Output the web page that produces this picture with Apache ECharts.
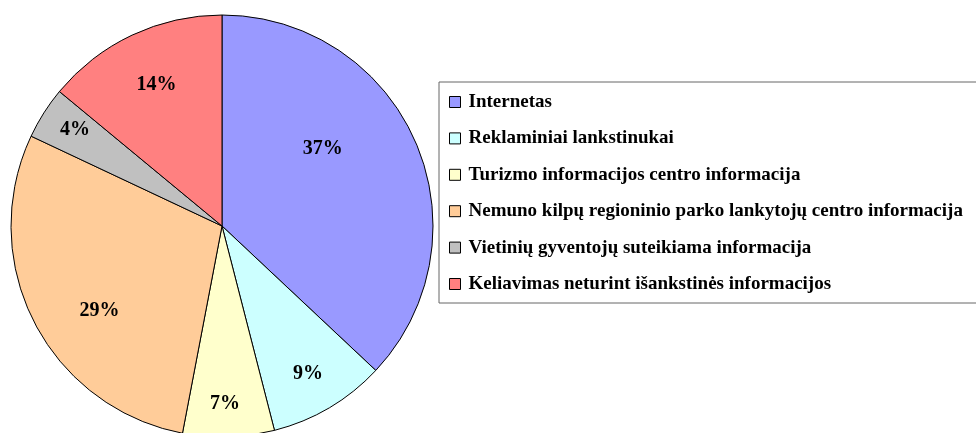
<!DOCTYPE html>
<html>
<head>
<meta charset="utf-8">
<script src="https://cdn.jsdelivr.net/npm/echarts@6/dist/echarts.min.js"></script>
<style>
  html, body { margin: 0; padding: 0; background: #fff; }
  #chart { width: 976px; height: 433px; }
</style>
</head>
<body>
<div id="chart"></div>
<script>
// categories + shares (percent)
var categories = [
  'Internetas',
  'Reklaminiai lankstinukai',
  'Turizmo informacijos centro informacija',
  'Nemuno kilpų regioninio parko lankytojų centro informacija',
  'Vietinių gyventojų suteikiama informacija',
  'Keliavimas neturint išankstinės informacijos'
];
var shares = [37, 9, 7, 29, 4, 14];
var colors = ['#9999FF', '#CCFFFF', '#FFFFCC', '#FFCC99', '#C0C0C0', '#FF8080'];

var FONT = '"Liberation Serif", "Times New Roman", serif';

// excel puts its labels a bit off the slice middle, nudge them
var labelNudge = [[-47, -13], [4, 9], [-2, 17], [21, 12], [-11, -10], [3, 5]];

var pieData = [];
for (var i = 0; i < categories.length; i++) {
  pieData.push({ name: categories[i], value: shares[i], itemStyle: { color: colors[i] } });
}
// copy used only to carry the labels
var labelData = [];
for (var j = 0; j < categories.length; j++) {
  labelData.push({ name: categories[j], value: shares[j], label: { offset: labelNudge[j] } });
}

var chart = echarts.init(document.getElementById('chart'));
chart.setOption({
  animation: false,
  backgroundColor: '#fff',
  legend: {
    orient: 'vertical',
    left: 439,
    top: 82,
    padding: [10, 40, 9, 10],
    itemGap: 16.4,
    itemWidth: 11,
    itemHeight: 11,
    icon: 'rect',
    borderColor: '#666',
    borderWidth: 1,
    data: categories,
    itemStyle: { borderColor: '#000', borderWidth: 1 },
    textStyle: {
      fontFamily: FONT,
      fontWeight: 'bold',
      fontSize: 19,
      color: '#000',
      lineHeight: 20,
      padding: [0, 0, 0, 3]
    }
  },
  series: [
    {
      type: 'pie',
      center: [222, 226],
      radius: [0, 211],
      startAngle: 90,
      clockwise: true,
      silent: true,
      data: pieData,
      itemStyle: { borderColor: '#000', borderWidth: 1 },
      label: { show: false },
      labelLine: { show: false }
    },
    {
      type: 'pie',
      center: [222, 226],
      radius: [105, 211],
      startAngle: 90,
      clockwise: true,
      silent: true,
      data: labelData,
      itemStyle: { color: 'rgba(0,0,0,0)', borderWidth: 0 },
      label: {
        show: true,
        position: 'inside',
        formatter: '{c}%',
        fontFamily: FONT,
        fontWeight: 'bold',
        fontSize: 20,
        color: '#000'
      },
      labelLine: { show: false }
    }
  ]
});
</script>
</body>
</html>
